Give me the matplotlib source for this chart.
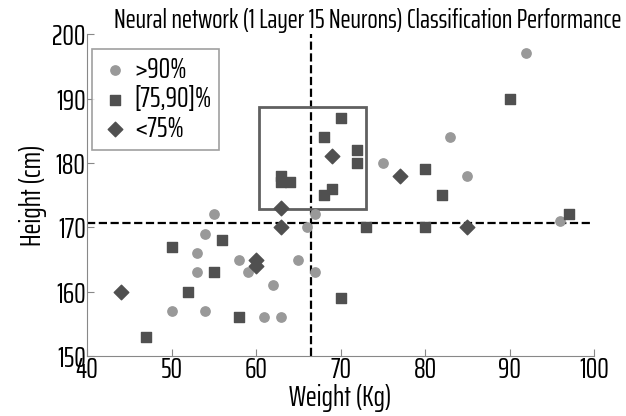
import matplotlib
matplotlib.use("Agg")
from matplotlib import pyplot as plt
from matplotlib.patches import Rectangle

plt.rcParams['font.family'] = ['Saira ExtraCondensed', 'DejaVu Sans']

# >90%
high_w = [92, 75, 83, 85, 96, 67, 66, 55, 54, 53, 58, 65, 53, 59, 67, 62, 50, 54, 61, 63]
high_h = [197, 180, 184, 178, 171, 172, 170, 172, 169, 166, 165, 165, 163, 163, 163, 161, 157, 157, 156, 156]

# [75,90]%
mid_w = [70, 68, 72, 72, 63, 63, 64, 69, 68, 73, 80, 82, 90, 97, 80, 56, 50, 55, 52, 70, 58, 47]
mid_h = [187, 184, 182, 180, 178, 177, 177, 176, 175, 170, 179, 175, 190, 172, 170, 168, 167, 163, 160, 159, 156, 153]

# <75%
low_w = [69, 77, 63, 63, 85, 60, 60, 44]
low_h = [181, 178, 173, 170, 170, 165, 164, 160]

mean_w = 66.5
mean_h = 170.6
box = (60.3, 172.8, 73.0, 188.7)  # x0, y0, x1, y1

fig = plt.figure(figsize=(6.26, 4.16), dpi=100)
ax = fig.add_axes([0.139, 0.144, 0.810, 0.774])

ax.scatter(high_w, high_h, marker='o', s=45, color='#999999', label='>90%', zorder=3)
ax.scatter(mid_w, mid_h, marker='s', s=50, color='#505050', label='[75,90]%', zorder=3)
ax.scatter(low_w, low_h, marker='D', s=55, color='#505050', label='<75%', zorder=3)

# mean lines
ax.axvline(mean_w, color='black', linestyle='--', linewidth=1.6, zorder=2)
ax.plot([40, 99.7], [mean_h, mean_h], color='black', linestyle='--', linewidth=1.6, zorder=2)

# region box
ax.add_patch(Rectangle((box[0], box[1]), box[2] - box[0], box[3] - box[1],
                       fill=False, edgecolor='#606060', linewidth=2, zorder=2))

ax.set_xlim(40, 100)
ax.set_ylim(150, 200)
ax.set_xticks([40, 50, 60, 70, 80, 90, 100])
ax.set_yticks([150, 160, 170, 180, 190, 200])
ax.tick_params(direction='in', length=5, color='#888888', labelsize=21, pad=1)
ax.tick_params(axis='x', pad=0)
for s in ['top', 'right']:
    ax.spines[s].set_visible(False)
for s in ['left', 'bottom']:
    ax.spines[s].set_color('#888888')

ax.set_xlabel('Weight (Kg)', fontsize=21, labelpad=0)
ax.set_ylabel('Height (cm)', fontsize=21, labelpad=4)
fig.text(0.588, 0.950, 'Neural network (1 Layer 15 Neurons) Classification Performance',
         ha='center', va='center', fontsize=19.5)

leg = ax.legend(loc='upper left', fontsize=21, frameon=True, fancybox=False,
                handletextpad=0.1, borderpad=0.25, labelspacing=0.05,
                bbox_to_anchor=(0.01, 0.955), handlelength=1.1, borderaxespad=0)
leg.get_frame().set_edgecolor('#888888')
leg.get_frame().set_linewidth(1.2)

fig.savefig('out.png', dpi=100)
